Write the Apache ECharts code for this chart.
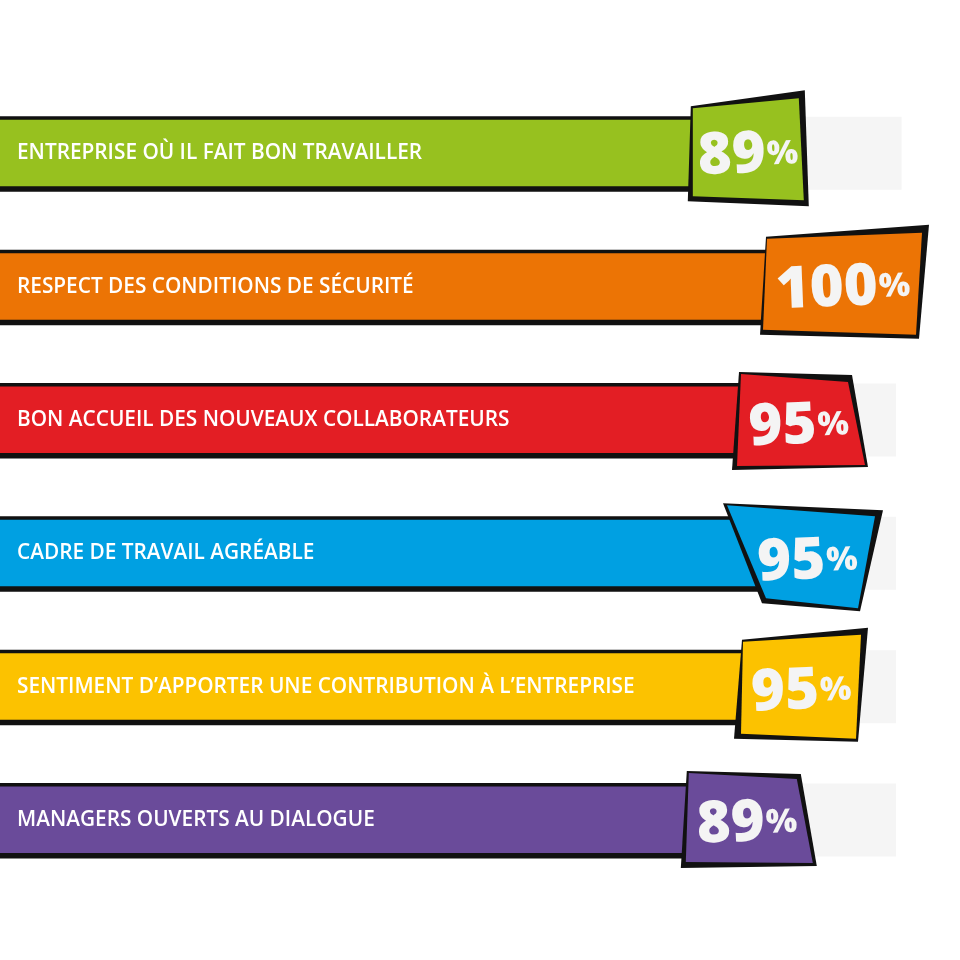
<!DOCTYPE html>
<html>
<head>
<meta charset="utf-8">
<script src="https://cdn.jsdelivr.net/npm/echarts@6/dist/echarts.min.js"></script>
<style>
  html, body { margin: 0; padding: 0; background: #ffffff; }
  #chart-container { width: 960px; height: 960px; }
</style>
</head>
<body>
<div id="chart-container"></div>
<script>
var categories = [
  'ENTREPRISE OÙ IL FAIT BON TRAVAILLER',
  'RESPECT DES CONDITIONS DE SÉCURITÉ',
  'BON ACCUEIL DES NOUVEAUX COLLABORATEURS',
  'CADRE DE TRAVAIL AGRÉABLE',
  'SENTIMENT D’APPORTER UNE CONTRIBUTION À L’ENTREPRISE',
  'MANAGERS OUVERTS AU DIALOGUE'
];
var values = [89, 100, 95, 95, 95, 89];
var trackValues = [98, 97.4, 97.4, 97.4, 97.4, 97.4];

// look of each row (colour + skewed end box, offsets in px from the value point)
var barColors = ['#97c11f', '#ec7405', '#e31e24', '#00a0e2', '#fcc200', '#6a4b9a'];
var boxShapes = [
  { outer: [[-128, -47], [-14, -63], [-10, 53], [-131, 48]],
    inner: [[-126, -45], [-20, -55], [-15, 47], [-126, 43]] },
  { outer: [[-154, -50], [9, -62], [-1, 52], [-160, 48]],
    inner: [[-153, -48], [2, -54], [-4, 48], [-157, 43]] },
  { outer: [[-135, -48], [-22, -45], [-6, 47], [-142, 50]],
    inner: [[-133, -46], [-26, -38], [-9, 45], [-137, 46]] },
  { outer: [[-151, -50], [9, -43], [-14, 58], [-112, 50]],
    inner: [[-147, -48], [1, -37], [-16, 55], [-108, 45]] },
  { outer: [[-132, -47], [-6, -59], [-16, 55], [-140, 52]],
    inner: [[-131, -45], [-13, -52], [-18, 52], [-133, 47]] },
  { outer: [[-132, -49], [-18, -46], [-2, 46], [-138, 48]],
    inner: [[-130, -47], [-22, -41], [-6, 43], [-133, 42]] }
];

var dom = document.getElementById('chart-container');
var myChart = echarts.init(dom, null, { renderer: 'canvas' });

function renderItem(params, api) {
  var i = api.value(0);
  var v = api.value(1);
  var end = api.coord([v, i]);
  var start = api.coord([0, i]);
  var x = end[0], y = end[1];
  var shape = boxShapes[i];
  var color = barColors[i];
  function pts(arr) {
    return arr.map(function (p) { return [x + p[0], y + p[1]]; });
  }
  var inner = pts(shape.inner);
  var cx = 0, cy = 0;
  inner.forEach(function (p) { cx += p[0] / 4; cy += p[1] / 4; });
  var bodyEnd = x - 90;
  return {
    type: 'group',
    children: [
      { type: 'rect', shape: { x: start[0], y: y - 37, width: bodyEnd - start[0], height: 75.5 },
        style: { fill: '#111111' } },
      { type: 'rect', shape: { x: start[0], y: y - 33.5, width: bodyEnd - start[0], height: 66.5 },
        style: { fill: color } },
      { type: 'polygon', shape: { points: pts(shape.outer) }, style: { fill: '#111111' } },
      { type: 'polygon', shape: { points: inner }, style: { fill: color } },
      { type: 'text', x: cx + 1, y: cy + 5, rotation: 0.04,
        style: {
          text: '{n|' + v + '}{p|%}',
          align: 'center', verticalAlign: 'middle',
          rich: {
            n: { fontSize: 58, fontWeight: 900, fontFamily: 'Noto Sans', fill: '#f4f4f4', lineHeight: 60 },
            p: { fontSize: 33, fontWeight: 900, fontFamily: 'Noto Sans', fill: '#f4f4f4', lineHeight: 60,
                 padding: [0, 0, 0, 1] }
          }
        } }
    ]
  };
}

var option = {
  backgroundColor: '#ffffff',
  animation: false,
  grid: { left: 0, right: 40, top: 86.7, bottom: 73.3, outerBoundsMode: 'none' },
  xAxis: { type: 'value', min: 0, max: 100, show: false },
  yAxis: {
    type: 'category',
    data: categories,
    inverse: true,
    z: 10,
    axisLine: { show: false },
    axisTick: { show: false },
    splitLine: { show: false },
    axisLabel: {
      inside: true,
      margin: 17,
      interval: 0,
      color: '#ffffff',
      fontFamily: 'Open Sans',
      fontWeight: 600,
      fontSize: 20.8
    }
  },
  series: [
    {
      type: 'bar',
      data: trackValues,
      barWidth: 73,
      silent: true,
      itemStyle: { color: '#f5f5f5' },
      z: 1
    },
    {
      type: 'custom',
      renderItem: renderItem,
      data: values.map(function (v, i) { return [i, v]; }),
      encode: { x: 1, y: 0 },
      z: 2
    }
  ]
};

myChart.setOption(option);
window.addEventListener('resize', myChart.resize);
</script>
</body>
</html>
